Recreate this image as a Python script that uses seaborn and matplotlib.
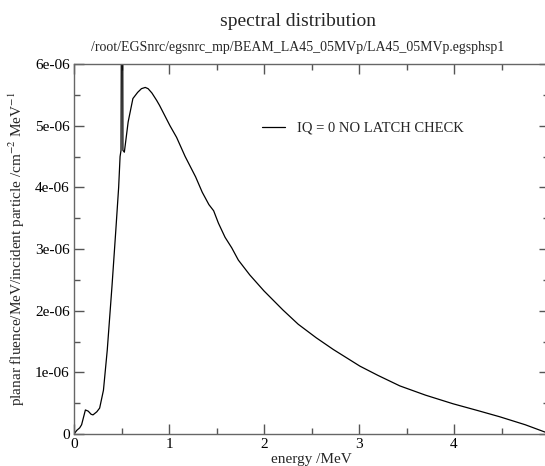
import numpy as np
import pandas as pd
import seaborn as sns
import matplotlib
matplotlib.use("Agg")
import matplotlib.pyplot as plt
from matplotlib.ticker import MultipleLocator, FuncFormatter

# spectrum (energy in MeV, fluence in 1e-6 units)
energy = [0.00, 0.03, 0.06, 0.08, 0.105, 0.12, 0.15, 0.18, 0.20, 0.24, 0.27,
          0.31, 0.35, 0.40, 0.44, 0.47, 0.485, 0.495, 0.503, 0.51, 0.515, 0.53,
          0.57, 0.62, 0.67, 0.71, 0.75, 0.78, 0.82, 0.87, 0.90, 0.95, 1.01,
          1.08, 1.17, 1.20, 1.28, 1.35, 1.42, 1.47, 1.52, 1.59, 1.66, 1.73,
          1.85, 2.00, 2.20, 2.36, 2.55, 2.73, 3.01, 3.20, 3.43, 3.70, 3.99,
          4.25, 4.48, 4.75, 4.96, 5.00]
fluence = [0.00, 0.06, 0.10, 0.15, 0.30, 0.39, 0.37, 0.32, 0.31, 0.36, 0.42,
           0.71, 1.36, 2.40, 3.30, 4.00, 4.50, 4.60, 9.00, 9.00, 4.60, 4.57,
           5.06, 5.44, 5.54, 5.60, 5.62, 5.60, 5.53, 5.41, 5.33, 5.18, 5.00,
           4.81, 4.50, 4.41, 4.17, 3.92, 3.72, 3.62, 3.42, 3.19, 3.02, 2.82,
           2.58, 2.32, 2.01, 1.78, 1.56, 1.37, 1.10, 0.95, 0.78, 0.63, 0.49,
           0.38, 0.28, 0.15, 0.03, 0.00]

title = "spectral distribution"
subtitle = "/root/EGSnrc/egsnrc_mp/BEAM_LA45_05MVp/LA45_05MVp.egsphsp1"
series_name = "IQ = 0 NO LATCH CHECK"

df = pd.DataFrame({"energy": energy, "fluence": np.array(fluence) * 1e-6})

sns.set_theme(style="ticks")
plt.rcParams["font.family"] = ["Liberation Serif", "DejaVu Serif"]
plt.rcParams["mathtext.fontset"] = "stix"

fig = plt.figure(figsize=(5.45, 4.66), dpi=100)
ax = fig.add_axes([74 / 545, 1 - 434 / 466, 475 / 545, 370 / 466])

sns.lineplot(data=df, x="energy", y="fluence", ax=ax, color="black",
             linewidth=0.9, label=series_name)

ax.set_xlim(0, 5)
ax.set_ylim(0, 6e-6)
ax.xaxis.set_major_locator(MultipleLocator(1))
ax.xaxis.set_minor_locator(MultipleLocator(0.5))
ax.yaxis.set_major_locator(MultipleLocator(1e-6))
ax.yaxis.set_minor_locator(MultipleLocator(0.5e-6))
ax.yaxis.set_major_formatter(FuncFormatter(lambda v, p: "%g" % round(v, 12)))
# the "5" label falls off the right edge of the picture
ax.xaxis.set_major_formatter(FuncFormatter(lambda v, p: "%g" % v if v < 4.5 else ""))
ax.tick_params(which="both", direction="in", top=True, right=True,
               colors="#555555", labelcolor="black", labelsize=11, pad=3)
ax.tick_params(which="major", length=7, width=1)
ax.tick_params(which="minor", length=4, width=1)
for s in ax.spines.values():
    s.set_color("#666666")
    s.set_linewidth(1)

ax.set_xlabel("energy /MeV", fontsize=11, labelpad=1)
ax.set_ylabel("planar fluence/MeV/incident particle /cm$^{-2}$ MeV$^{-1}$",
              fontsize=11, labelpad=6)

fig.text(298 / 545, 1 - 22 / 466, title, ha="center", va="center", fontsize=14)
fig.text(298 / 545, 1 - 47 / 466, subtitle, ha="center", va="center", fontsize=10)

ax.legend(loc="center left", bbox_to_anchor=(262 / 545, 1 - 128 / 466),
          bbox_transform=fig.transFigure, frameon=False, fontsize=10.5,
          handlelength=1.6, handletextpad=0.8, borderaxespad=0, borderpad=0)

fig.savefig("out.png", dpi=100)
